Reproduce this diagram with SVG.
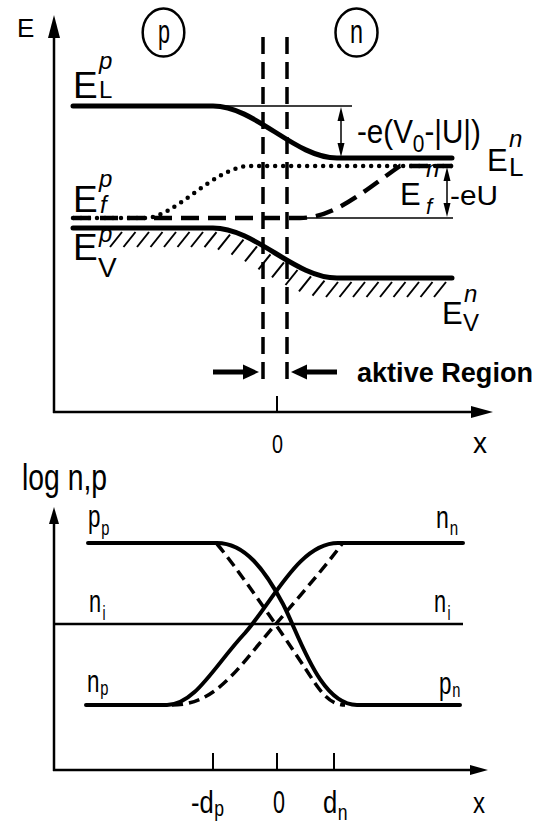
<svg xmlns="http://www.w3.org/2000/svg" width="537" height="825" viewBox="0 0 537 825">
<style>
.ax{stroke:#000;stroke-width:2.5;fill:none}
.tk{stroke:#000;stroke-width:2;fill:none}
.thick{stroke:#000;stroke-width:5;fill:none;stroke-linecap:round}
.curve{stroke:#000;stroke-width:4;fill:none;stroke-linecap:round}
.dash{stroke:#000;stroke-width:3.5;fill:none;stroke-dasharray:11 6}
.thin{stroke:#000;stroke-width:1.5;fill:none}
.vd{stroke:#000;stroke-width:3.5;fill:none;stroke-dasharray:17 8}
.fd{stroke:#000;stroke-width:4.5;fill:none;stroke-dasharray:18 9}
.dot{stroke:#000;stroke-width:4.5;fill:none;stroke-dasharray:0 8;stroke-linecap:round}
.hatch line{stroke:#000;stroke-width:2}
.t{font-family:"Liberation Sans",Arial,sans-serif;fill:#000}
.i{font-style:italic}
.b{font-weight:bold}
</style>

<g id="top-axes">
  <line class="ax" x1="54" y1="413" x2="54" y2="35"/>
  <polygon points="54,15 48,38 60,38"/>
  <line class="ax" x1="53" y1="412" x2="474" y2="412"/>
  <polygon points="493,412 471,406 471,418"/>
  <line class="tk" x1="277" y1="396" x2="277" y2="412"/>
  <text class="t" x="17" y="37" font-size="26">E</text>
  <text class="t" x="272" y="453" font-size="25" textLength="11" lengthAdjust="spacingAndGlyphs">0</text>
  <text class="t" x="473" y="453" font-size="29" textLength="14" lengthAdjust="spacingAndGlyphs">x</text>
</g>

<g id="region-p">
  <ellipse cx="163.5" cy="32.5" rx="20.8" ry="24" fill="none" stroke="#000" stroke-width="2.5"/>
  <text class="t" x="158" y="43" font-size="34" textLength="12" lengthAdjust="spacingAndGlyphs">p</text>
</g>
<g id="region-n">
  <ellipse cx="356.5" cy="32.5" rx="21" ry="24" fill="none" stroke="#000" stroke-width="2.5"/>
  <text class="t" x="350" y="43" font-size="34" textLength="13" lengthAdjust="spacingAndGlyphs">n</text>
</g>

<g id="bands">
  <path class="thick" d="M73,106 L213,106 C255,106 295,158 337,158 L452,158"/>
  <path class="thick" d="M73,228 L213,228 C255,228 295,278 337,278 L452,278"/>
  <path class="fd" d="M73,218 L300,218 C335,218 365,190 400,166 L452,166"/>
  <path class="dot" d="M73,218 L145,218 C175,218 215,166 250,166 L452,166"/>
  <line class="thin" x1="213" y1="106" x2="352" y2="106"/>
  <line class="thin" x1="307" y1="218" x2="453" y2="218"/>
</g>

<g id="hatching" class="hatch">
  <line x1="122" y1="232" x2="110" y2="247"/>
  <line x1="135.5" y1="232" x2="123.5" y2="247"/>
  <line x1="149" y1="232" x2="137" y2="247"/>
  <line x1="162.5" y1="232" x2="150.5" y2="247"/>
  <line x1="176" y1="232" x2="164" y2="247"/>
  <line x1="189.5" y1="232" x2="177.5" y2="247"/>
  <line x1="203" y1="232" x2="191" y2="247"/>
  <line x1="216.5" y1="232.1" x2="204.5" y2="247.1"/>
  <line x1="230" y1="234.6" x2="218" y2="249.6"/>
  <line x1="243.5" y1="239.6" x2="231.5" y2="254.6"/>
  <line x1="257" y1="246.4" x2="245" y2="261.4"/>
  <line x1="270.5" y1="254.3" x2="258.5" y2="269.3"/>
  <line x1="284" y1="262.4" x2="272" y2="277.4"/>
  <line x1="297.5" y1="270" x2="285.5" y2="285"/>
  <line x1="311" y1="276.3" x2="299" y2="291.3"/>
  <line x1="324.5" y1="280.6" x2="312.5" y2="295.6"/>
  <line x1="338" y1="282" x2="326" y2="297"/>
  <line x1="351.5" y1="282" x2="339.5" y2="297"/>
  <line x1="365" y1="282" x2="353" y2="297"/>
  <line x1="378.5" y1="282" x2="366.5" y2="297"/>
  <line x1="392" y1="282" x2="380" y2="297"/>
  <line x1="405.5" y1="282" x2="393.5" y2="297"/>
  <line x1="419" y1="282" x2="407" y2="297"/>
  <line x1="432.5" y1="282" x2="420.5" y2="297"/>
  <line x1="446" y1="282" x2="434" y2="297"/>
</g>

<g id="active-region">
  <line class="vd" x1="263" y1="37" x2="263" y2="386"/>
  <line class="vd" x1="287" y1="37" x2="287" y2="386"/>
  <line x1="213" y1="372" x2="245" y2="372" stroke="#000" stroke-width="5"/>
  <polygon points="259,372 243,364.5 243,379.5"/>
  <line x1="305" y1="372" x2="337" y2="372" stroke="#000" stroke-width="5"/>
  <polygon points="291,372 307,364.5 307,379.5"/>
  <text class="t b" x="357" y="382" font-size="27" textLength="176" lengthAdjust="spacingAndGlyphs">aktive Region</text>
</g>

<g id="dim-arrows">
  <line class="thin" x1="341" y1="114" x2="341" y2="150"/>
  <polygon points="341,107 337.5,121 344.5,121"/>
  <polygon points="341,157 337.5,143 344.5,143"/>
  <line class="thin" x1="447" y1="174" x2="447" y2="210"/>
  <polygon points="447,167 443.5,181 450.5,181"/>
  <polygon points="447,217 443.5,203 450.5,203"/>
  <text class="t" transform="translate(357,143) scale(0.87,1)" font-size="34">-e(V<tspan dy="9" font-size="24">0</tspan><tspan dy="-9">-|U|)</tspan></text>
  <text class="t" x="450" y="205" font-size="28" textLength="48" lengthAdjust="spacingAndGlyphs">-eU</text>
</g>

<g id="band-labels">
  <text class="t" x="73" y="98" font-size="37">E<tspan x="99" y="69" font-size="24" font-style="italic">p</tspan><tspan x="99" y="98" font-size="24">L</tspan></text>
  <text class="t" x="73" y="212" font-size="37">E<tspan x="99" y="187" font-size="24" font-style="italic">p</tspan><tspan x="100" y="213" font-size="24" font-style="italic">f</tspan></text>
  <text class="t" x="73" y="260" font-size="37">E<tspan x="99" y="242" font-size="24" font-style="italic">p</tspan><tspan x="98" y="277" font-size="28">V</tspan></text>
  <text class="t" x="487" y="171" font-size="31">E<tspan x="509" y="147" font-size="24" font-style="italic">n</tspan><tspan x="509" y="176" font-size="26">L</tspan></text>
  <text class="t" x="400" y="205" font-size="31">E<tspan x="426" y="177" font-size="24" font-style="italic">n</tspan><tspan x="426" y="214" font-size="22" font-style="italic">f</tspan></text>
  <text class="t" x="442" y="324" font-size="31">E<tspan x="464" y="302" font-size="24" font-style="italic">n</tspan><tspan x="463" y="331" font-size="24">V</tspan></text>
</g>

<g id="bottom-axes">
  <line class="ax" x1="54" y1="771" x2="54" y2="522"/>
  <polygon points="54,507 49,524 59,524"/>
  <line class="ax" x1="53" y1="770" x2="472" y2="770"/>
  <polygon points="488,770 470,765 470,775"/>
  <line class="tk" x1="213" y1="753" x2="213" y2="770"/>
  <line class="tk" x1="277" y1="753" x2="277" y2="770"/>
  <line class="tk" x1="334" y1="753" x2="334" y2="770"/>
  <text class="t" x="22" y="490" font-size="36" textLength="85" lengthAdjust="spacingAndGlyphs">log n,p</text>
  <text class="t" transform="translate(191,813) scale(0.8,1)" font-size="32">-d<tspan x="29" y="3" font-size="22">p</tspan></text>
  <text class="t" x="273" y="813" font-size="32" textLength="12" lengthAdjust="spacingAndGlyphs">0</text>
  <text class="t" transform="translate(323,813) scale(0.8,1)" font-size="32">d<tspan x="18.5" y="7" font-size="22">n</tspan></text>
  <text class="t" x="473" y="813" font-size="30" textLength="12" lengthAdjust="spacingAndGlyphs">x</text>
</g>

<g id="ni-level">
  <line x1="54" y1="624" x2="463" y2="624" stroke="#000" stroke-width="2.5"/>
  <text class="t" transform="translate(89,612) scale(0.68,1)" font-size="32">n<tspan x="20" y="8" font-size="20">i</tspan></text>
  <text class="t" transform="translate(434,612) scale(0.68,1)" font-size="32">n<tspan x="20" y="8" font-size="20">i</tspan></text>
</g>

<g id="holes">
  <path class="curve" d="M88,543 L217,543 C245,543 265,570 283,604 C300,637 320,705 357,705 L460,705"/>
  <path class="dash" d="M217,544 C235,565 280,630 305,668 C318,688 328,705 345,705"/>
  <text class="t" transform="translate(88,527) scale(0.7,1)" font-size="32">p<tspan x="19" y="8" font-size="21">p</tspan></text>
  <text class="t" transform="translate(439,694) scale(0.7,1)" font-size="32">p<tspan x="19" y="3" font-size="21">n</tspan></text>
</g>

<g id="electrons">
  <path class="curve" d="M86,705 L167,705 C195,705 215,665 245,633 C275,598 300,543 338,543 L463,543"/>
  <path class="dash" d="M172,705 C205,705 225,685 250,655 C280,618 315,580 342,544"/>
  <text class="t" transform="translate(436,528) scale(0.72,1)" font-size="32">n<tspan x="19" y="7" font-size="21">n</tspan></text>
  <text class="t" transform="translate(87,692) scale(0.7,1)" font-size="32">n<tspan x="19" y="3" font-size="21">p</tspan></text>
</g>
</svg>
